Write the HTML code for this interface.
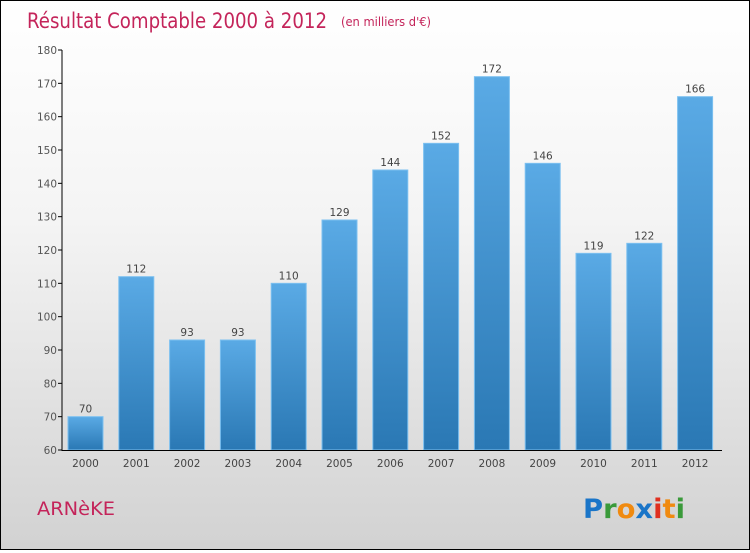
<!DOCTYPE html>
<html><head><meta charset="utf-8"><style>
body{margin:0;}
#c{width:748px;height:548px;border:1px solid #000;background:linear-gradient(#ffffff,#f4f4f4 40%,#d2d2d2);position:relative;font-family:"DejaVu Sans","Liberation Sans",sans-serif;}
</style></head><body>
<div id="c">
<svg id="s" width="748" height="548" xmlns="http://www.w3.org/2000/svg">
<defs><linearGradient id="bg" x1="0" y1="0" x2="0" y2="1"><stop offset="0" stop-color="#5aaae5"/><stop offset="1" stop-color="#2a78b4"/></linearGradient></defs>
<text x="26" y="27" font-size="21" fill="#c4245a" textLength="300" lengthAdjust="spacingAndGlyphs">Résultat Comptable 2000 à 2012</text>
<text x="340" y="25" font-size="12" fill="#c4245a" textLength="90" lengthAdjust="spacingAndGlyphs">(en milliers d'€)</text>
<text x="36" y="514" font-size="19" fill="#c4245a" textLength="78" lengthAdjust="spacingAndGlyphs">ARNèKE</text>
<g font-size="27" font-weight="bold"><text x="582" y="517" textLength="102" lengthAdjust="spacingAndGlyphs"><tspan fill="#1a75c8">P</tspan><tspan fill="#3a9a3a">r</tspan><tspan fill="#f08a10">o</tspan><tspan fill="#1a75c8">x</tspan><tspan fill="#e03020">i</tspan><tspan fill="#f08a10">t</tspan><tspan fill="#3a9a3a">i</tspan></text></g>
<g id="plot"></g>
</svg></div>
<script>
const years=["2000","2001","2002","2003","2004","2005","2006","2007","2008","2009","2010","2011","2012"];
const values=[70,112,93,93,110,129,144,152,172,146,119,122,166];
const ticks=[60,70,80,90,100,110,120,130,140,150,160,170,180];
const ns="http://www.w3.org/2000/svg";
const g=document.getElementById('plot');
const y=v=>449-(v-60)*(400/120);
const x=i=>67+i*50.8;
function el(t,a){const e=document.createElementNS(ns,t);for(const k in a)e.setAttribute(k,a[k]);g.appendChild(e);return e;}
ticks.forEach(t=>{
 const l=el('line',{x1:57,x2:61,y1:y(t),y2:y(t),stroke:'#000'});
 
 const tx=el('text',{x:56,y:y(t)+4,'font-size':10.5,fill:'#555','text-anchor':'end'});tx.textContent=t;
 
});
values.forEach((v,i)=>{
 const r=el('rect',{x:x(i),y:y(v),width:35,height:449-y(v),fill:'url(#bg)',stroke:'#7cc0f0','stroke-width':1});
 
 const t=el('text',{x:x(i)+17.5,y:y(v)-4,'font-size':10.5,fill:'#444','text-anchor':'middle'});t.textContent=v;
 
 const xl=el('text',{x:x(i)+17.5,y:466,'font-size':10.5,fill:'#444','text-anchor':'middle'});xl.textContent=years[i];
 
});
const ya=el('line',{x1:61,x2:61,y1:49,y2:450,stroke:'#000'});

const xa=el('line',{x1:61,x2:721,y1:449.5,y2:449.5,stroke:'#000'});

</script>
</body></html>
